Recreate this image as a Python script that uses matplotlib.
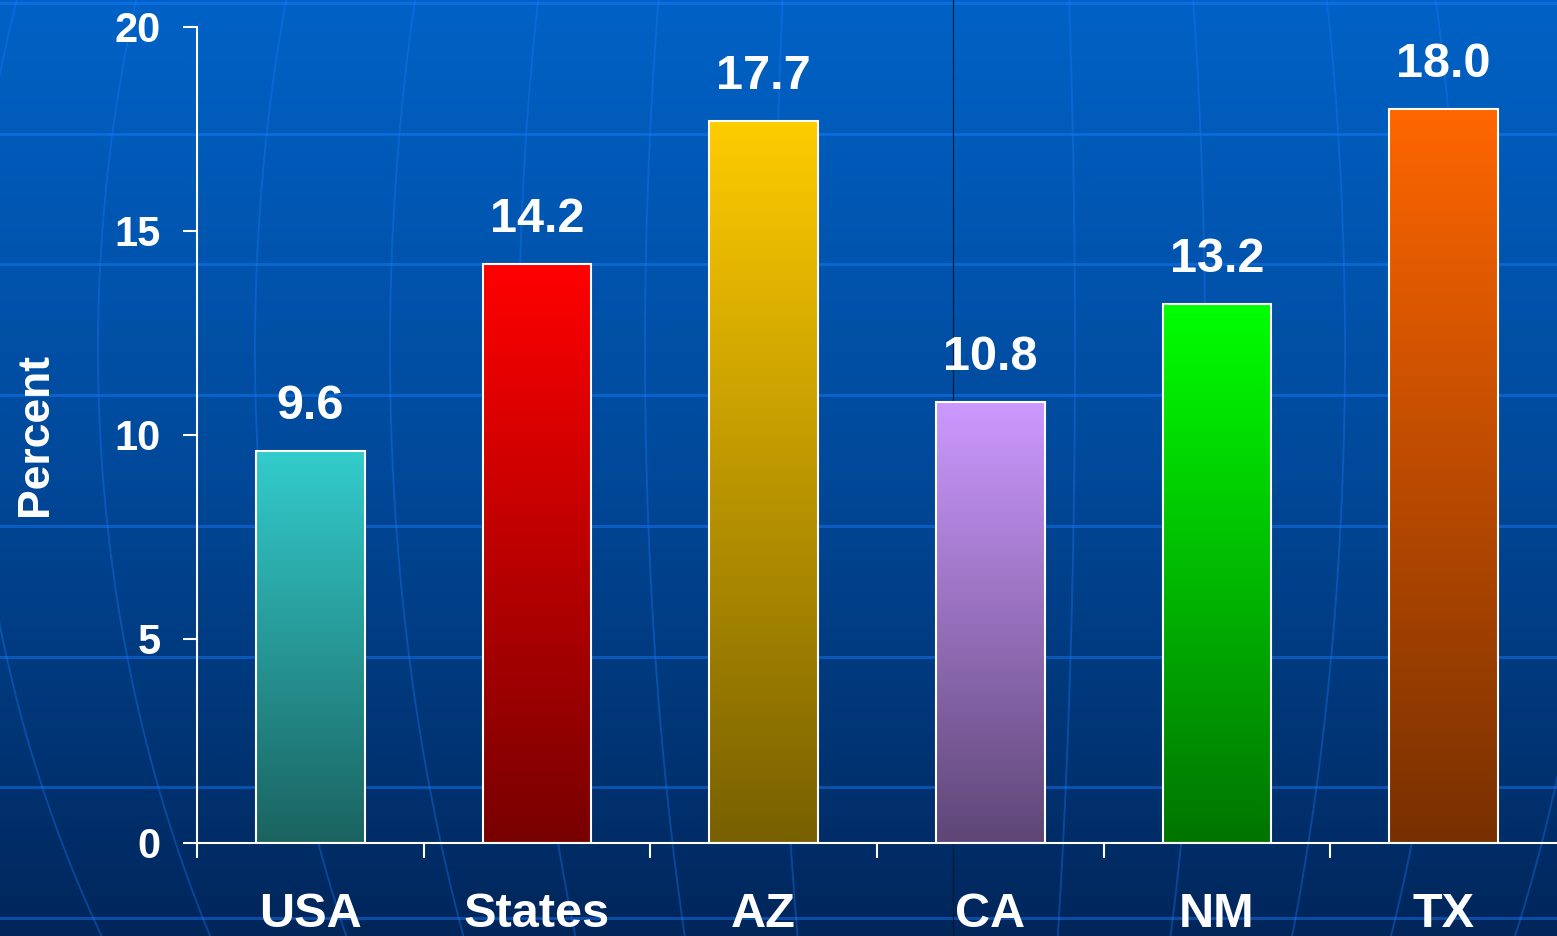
import numpy as np
import matplotlib.pyplot as plt
from matplotlib.colors import LinearSegmentedColormap

categories = ['USA', 'States', 'AZ', 'CA', 'NM', 'TX']
percent = [9.6, 14.2, 17.7, 10.8, 13.2, 18.0]
top_colors = ['#33CCCC', '#FF0000', '#FFCC00', '#CC99FF', '#00FF00', '#FF6600']
bottom_colors = ['#1A6360', '#780000', '#786000', '#5E4676', '#007400', '#783000']
yticks = [0, 5, 10, 15, 20]

W, H = 1557, 936
plt.rcParams['font.family'] = ['Liberation Sans', 'DejaVu Sans']
plt.rcParams['font.weight'] = 'bold'

fig = plt.figure(figsize=(W / 100, H / 100), dpi=100)

# background: blue gradient with a faint globe grid
bg = fig.add_axes([0, 0, 1, 1], zorder=0)
bg_cmap = LinearSegmentedColormap.from_list('bg', ['#0062C6', '#00499A', '#00265A'])
bg.imshow(np.linspace(0, 1, 256).reshape(-1, 1), cmap=bg_cmap, aspect='auto',
          extent=[0, W, H, 0])
for k in range(8):
    bg.axhline(3 + 130.7 * k, color='#1a7cff', alpha=0.45, lw=2.2)
yy = np.linspace(0, H, 300)
bulge = np.sqrt(1 - ((yy - 350) / 1179) ** 2)
for a in [-972, -847, -690, -555, -426, -300, -170, 130, 260, 400, 514, 657, 800, 950]:
    bg.plot(945 + a * bulge, yy, color='#1a7cff', alpha=0.35, lw=1.4)
bg.axvline(953, color='#0a1530', lw=0.8)
bg.set_xlim(0, W)
bg.set_ylim(H, 0)
bg.axis('off')

ax = fig.add_axes([197 / W, 93 / H, 1 - 197 / W, (843 - 27) / H], zorder=1)
ax.set_facecolor('none')

x = np.arange(len(categories))
bars = ax.bar(x, percent, width=0.48, facecolor='none', edgecolor='white',
              linewidth=1.5, zorder=3)
for b, c0, c1 in zip(bars, bottom_colors, top_colors):
    cm = LinearSegmentedColormap.from_list('', [c0, c1])
    ax.imshow(np.linspace(0, 1, 256).reshape(-1, 1), cmap=cm, origin='lower', aspect='auto',
              extent=[b.get_x(), b.get_x() + b.get_width(), 0, b.get_height()], zorder=2)

for xi, v in zip(x, percent):
    ax.annotate(f'{v:.1f}', (xi, v), xytext=(0, 23), textcoords='offset points',
                ha='center', va='baseline', fontsize=35, color='white', fontweight='bold')

ax.set_xlim(-0.5, len(categories) - 0.5)
ax.set_ylim(0, 20)
ax.set_yticks(yticks)
ax.tick_params(axis='y', direction='out', length=10, width=1.5, colors='white',
               labelsize=30, pad=16)
ax.set_xticks(x, categories)
ax.tick_params(axis='x', which='major', length=0, pad=35, labelsize=35, labelcolor='white')
ax.set_xticks(np.arange(-0.5, len(categories) - 0.5), minor=True)
ax.tick_params(axis='x', which='minor', length=11, width=1.5, color='white', direction='out')

for s in ['top', 'right']:
    ax.spines[s].set_visible(False)
for s in ['left', 'bottom']:
    ax.spines[s].set_color('white')
    ax.spines[s].set_linewidth(1.5)

ax.set_ylabel('Percent', fontsize=32, color='white', fontweight='bold')
ax.yaxis.set_label_coords(-0.104, 0.5)

fig.savefig('out.png', dpi=100)
